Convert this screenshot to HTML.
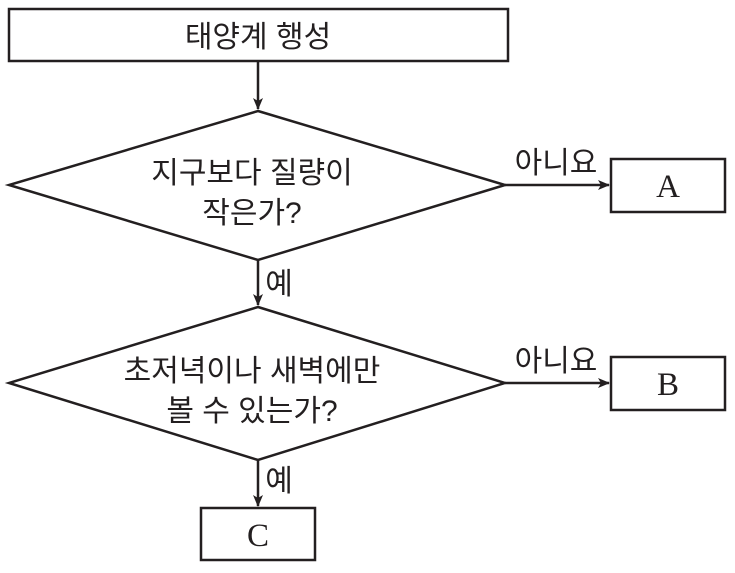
<!DOCTYPE html>
<html><head><meta charset="utf-8"><style>
html,body{margin:0;padding:0;background:#fff;}
svg text{font-family:"Liberation Sans","Noto Sans CJK KR",sans-serif;fill:#231f20;}
</style></head><body>
<svg width="735" height="568" viewBox="0 0 735 568" xmlns="http://www.w3.org/2000/svg">
<defs><marker id="ah" markerWidth="12" markerHeight="10" refX="11" refY="5" orient="auto" markerUnits="userSpaceOnUse"><path d="M0,0 L12,5 L0,10 L3,5 Z" fill="#231f20"/></marker></defs>
<g stroke="#231f20" stroke-width="2.5" fill="none">
<rect x="9" y="9" width="499" height="52"/>
<line x1="258" y1="61" x2="258" y2="109" marker-end="url(#ah)"/>
<polygon points="258,111 505,185 258,260 9,185"/>
<line x1="505" y1="185" x2="609" y2="185" marker-end="url(#ah)"/>
<rect x="611" y="159" width="114" height="53"/>
<line x1="258" y1="260" x2="258" y2="305" marker-end="url(#ah)"/>
<polygon points="258,307 505,383 258,460 9,383"/>
<line x1="505" y1="383" x2="609" y2="383" marker-end="url(#ah)"/>
<rect x="611" y="357" width="114" height="53"/>
<line x1="258" y1="460" x2="258" y2="506" marker-end="url(#ah)"/>
<rect x="201" y="508" width="114" height="52"/>
</g>
<g font-size="30" text-anchor="middle">
<text x="258" y="47">태양계 행성</text>
<text x="252" y="183">지구보다 질량이</text>
<text x="252" y="223">작은가?</text>
<text x="252" y="381">초저녁이나 새벽에만</text>
<text x="252" y="421">볼 수 있는가?</text>
<text x="556" y="173">아니요</text>
<text x="556" y="371">아니요</text>
<text x="279" y="294">예</text>
<text x="279" y="491">예</text>
</g>
<g font-size="33" text-anchor="middle">
<text x="668" y="197" style="font-family:'Liberation Serif',serif">A</text>
<text x="668" y="395" style="font-family:'Liberation Serif',serif">B</text>
<text x="258" y="546" style="font-family:'Liberation Serif',serif">C</text>
</g>
</svg>
</body></html>
